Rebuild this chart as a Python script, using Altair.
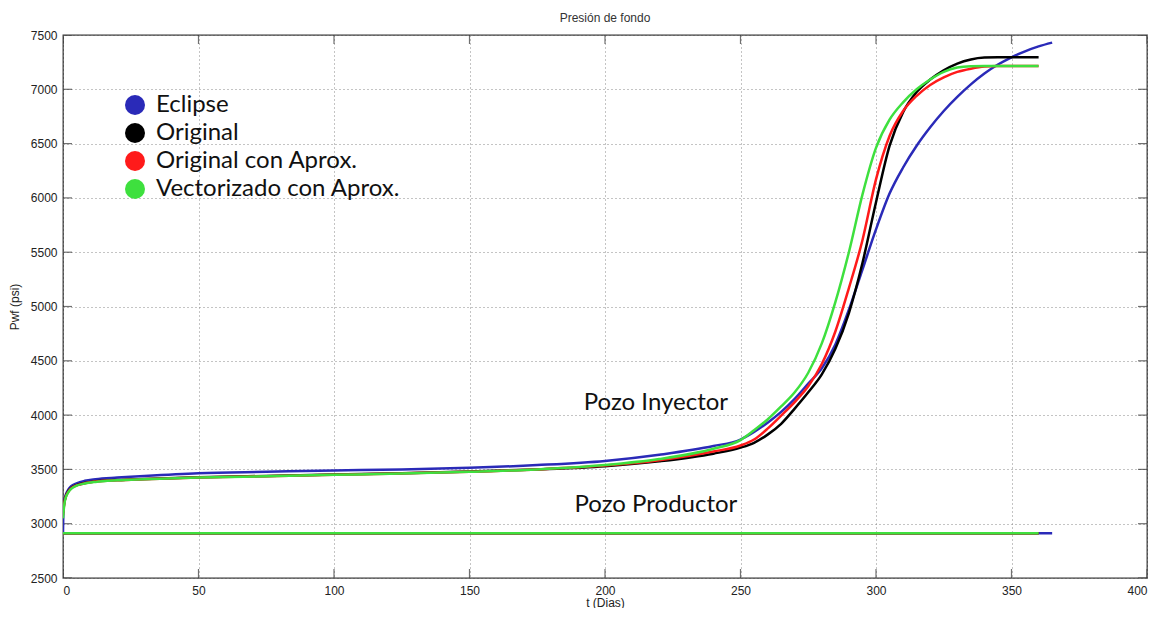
import altair as alt
import pandas as pd

SERIES = ["Eclipse", "Original", "Original con Aprox.", "Vectorizado con Aprox."]
COLORS = ["#2a2ab8", "#000000", "#ff1a1a", "#3ee03e"]

# Pozo Inyector curves (t in days, Pwf in psi)
t_eclipse = [0, 0.2, 0.5, 1, 2, 3, 5, 8, 12, 20, 30, 50, 75, 100, 125, 150, 175, 200, 220, 240, 250,
             255, 260, 265, 270, 275, 280, 285, 290, 295, 300, 305, 310, 315, 320, 325, 330, 335, 340,
             345, 350, 355, 360, 365]
p_eclipse = [2920, 3150, 3210, 3265, 3315, 3345, 3372, 3395, 3410, 3425, 3440, 3465, 3478, 3490, 3500,
             3515, 3540, 3578, 3635, 3715, 3775, 3845, 3930, 4030, 4150, 4290, 4430, 4650, 4970, 5340,
             5710, 6040, 6280, 6480, 6650, 6800, 6930, 7045, 7145, 7228, 7295, 7350, 7395, 7430]

t_original = [0, 0.5, 1, 2, 3, 5, 8, 12, 20, 30, 50, 75, 100, 125, 150, 175, 200, 220, 240, 250,
              255, 260, 265, 270, 275, 280, 285, 290, 295, 300, 305, 310, 315, 320, 325, 330, 335,
              340, 345, 350, 360]
p_original = [3100, 3200, 3250, 3300, 3330, 3355, 3375, 3390, 3402, 3412, 3428, 3440, 3452, 3465, 3480,
              3500, 3530, 3575, 3645, 3700, 3745, 3820, 3920, 4060, 4210, 4375, 4610, 4940, 5400, 5960,
              6480, 6790, 6975, 7090, 7175, 7237, 7275, 7292, 7295, 7295, 7295]

t_orig_aprox = [0, 0.5, 1, 2, 3, 5, 8, 12, 20, 30, 50, 75, 100, 125, 150, 175, 200, 220, 240, 250,
                255, 260, 265, 270, 275, 280, 285, 290, 295, 300, 305, 310, 315, 320, 325, 330, 335,
                340, 345, 350, 360]
p_orig_aprox = [3080, 3190, 3245, 3295, 3325, 3352, 3372, 3388, 3400, 3410, 3426, 3438, 3450, 3463, 3478,
                3500, 3535, 3585, 3665, 3720, 3775, 3875, 3995, 4120, 4265, 4470, 4770, 5170, 5610, 6170,
                6570, 6800, 6940, 7040, 7110, 7160, 7190, 7210, 7215, 7215, 7215]

t_vector = [0, 0.5, 1, 2, 3, 5, 8, 12, 20, 30, 50, 75, 100, 125, 150, 175, 200, 220, 240, 250,
            255, 260, 265, 270, 275, 280, 285, 290, 295, 300, 305, 310, 315, 320, 325, 330, 335,
            340, 350, 360]
p_vector = [3050, 3180, 3240, 3290, 3320, 3350, 3370, 3385, 3400, 3410, 3425, 3437, 3450, 3462, 3478,
            3500, 3540, 3595, 3690, 3770, 3860, 3960, 4080, 4210, 4390, 4660, 5040, 5500, 6030, 6460,
            6720, 6880, 7000, 7090, 7160, 7200, 7213, 7215, 7215, 7215]

# Pozo Productor: flat lines
prod_t_end = [365, 360, 360, 360]
prod_p = [2912, 2912, 2912, 2912]

X_TICKS = [0, 50, 100, 150, 200, 250, 300, 350, 400]
Y_TICKS = [2500, 3000, 3500, 4000, 4500, 5000, 5500, 6000, 6500, 7000, 7500]

ann_text = ["Pozo Inyector", "Pozo Productor"]
ann_t = [218.8, 218.8]
ann_p = [4110, 3172]

rows = []
inj = [(t_eclipse, p_eclipse), (t_original, p_original), (t_orig_aprox, p_orig_aprox), (t_vector, p_vector)]
for s, (ts, ps), te, pp in zip(SERIES, inj, prod_t_end, prod_p):
    for t, p in zip(ts, ps):
        rows.append({"serie": s, "pozo": "Inyector", "t": t, "p": p})
    rows.append({"serie": s, "pozo": "Productor", "t": 0, "p": pp})
    rows.append({"serie": s, "pozo": "Productor", "t": te, "p": pp})
df = pd.DataFrame(rows)

xscale = alt.Scale(domain=[0, 400], nice=False, zero=False)
yscale = alt.Scale(domain=[2500, 7500], nice=False, zero=False)
cscale = alt.Scale(domain=SERIES, range=COLORS)

xaxis = alt.Axis(values=X_TICKS, format="d", title="t (Dias)", grid=True, ticks=False, domain=False,
                 labelPadding=7, titlePadding=1)
yaxis = alt.Axis(values=Y_TICKS, format="d", title="Pwf (psi)", grid=True, ticks=False, domain=False,
                 labelPadding=6, titlePadding=9)

X = alt.X("t:Q", scale=xscale, axis=xaxis)
Y = alt.Y("p:Q", scale=yscale, axis=yaxis)

legend = alt.Legend(
    title=None, orient="none", legendX=60, legendY=58,
    symbolType="circle", symbolSize=400, symbolOpacity=1, symbolStrokeWidth=0,
    labelFont="Lato", labelFontSize=24, labelColor="#111", labelLimit=400,
    labelOffset=9, rowPadding=4,
)

# invisible points only used to produce the filled-circle legend
legend_layer = alt.Chart(df).mark_circle(opacity=0, size=1).encode(
    x=X, y=Y, fill=alt.Fill("serie:N", scale=cscale, legend=legend, sort=SERIES))

layers = []
for s in SERIES:
    layers.append(
        alt.Chart(df).transform_filter(alt.datum.serie == s)
        .mark_line(strokeWidth=2.5, interpolate="monotone", clip=True)
        .encode(
            x=X, y=Y,
            color=alt.Color("serie:N", scale=cscale, legend=None),
            detail="pozo:N",
        )
    )

xt_df = pd.DataFrame({"t": X_TICKS * 2, "p": [Y_TICKS[0]] * len(X_TICKS) + [Y_TICKS[-1]] * len(X_TICKS)})
yt_df = pd.DataFrame({"t": [X_TICKS[0]] * len(Y_TICKS) + [X_TICKS[-1]] * len(Y_TICKS), "p": Y_TICKS * 2})

xticks = alt.Chart(xt_df).mark_tick(orient="vertical", size=18, thickness=1.2, color="#333", clip=True).encode(
    x=X, y=Y)
yticks = alt.Chart(yt_df).mark_tick(orient="horizontal", size=18, thickness=1.2, color="#333", clip=True).encode(
    x=X, y=Y)

ann_df = pd.DataFrame({"text": ann_text, "t": ann_t, "p": ann_p})
ann = alt.Chart(ann_df).mark_text(font="Lato", fontSize=24, align="center", baseline="middle",
                                  color="#111").encode(x=X, y=Y, text="text:N")

chart = alt.layer(xticks, yticks, legend_layer, *layers, ann).properties(
    width=1084, height=543,
    title=alt.TitleParams("Presión de fondo", fontSize=12, font="Liberation Sans", fontWeight="normal",
                          color="#333", offset=4, frame="group"),
    padding={"left": 55, "top": 27, "right": 5, "bottom": 30},
    autosize=alt.AutoSizeParams(type="none"),
).configure_view(stroke="#333", strokeWidth=1.3).configure_axis(
    labelFont="Liberation Sans", labelFontSize=12, labelColor="#222",
    titleFont="Liberation Sans", titleFontSize=12, titleFontWeight="normal", titleColor="#222",
    gridColor="#888", gridDash=[1, 3], gridWidth=1, gridOpacity=1,
)

chart.save("out.html", embed_options={"renderer": "svg", "actions": False})
